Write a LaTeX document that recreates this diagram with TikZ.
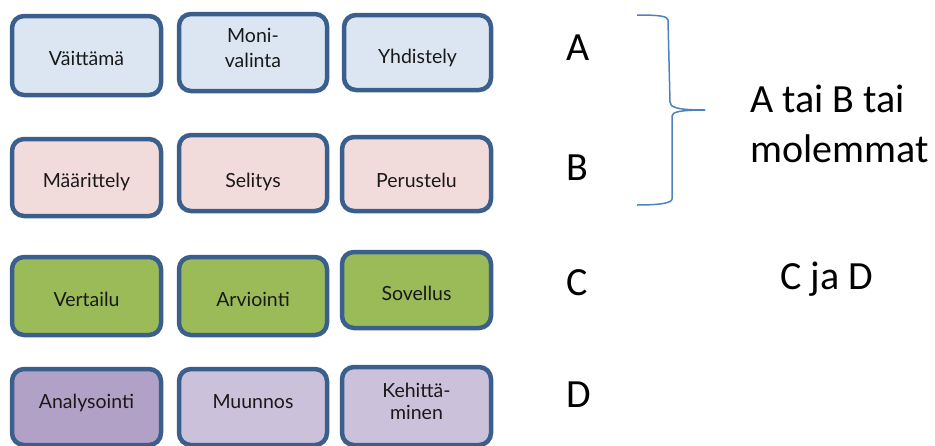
\documentclass[tikz,border=0pt]{standalone}
\usepackage{fontspec}
\setmainfont{Lato}
\newfontfamily\carlitofont{Carlito}
\definecolor{bord}{HTML}{3A5F8C}
\definecolor{fa}{HTML}{DCE6F2}
\definecolor{fb}{HTML}{F2DCDB}
\definecolor{fc}{HTML}{9BBB59}
\definecolor{fd}{HTML}{B2A1C7}
\definecolor{fe}{HTML}{CCC1DA}
\definecolor{brc}{HTML}{4F81BD}
\tikzset{
  card/.style={draw=bord, line width=4.5pt, rounded corners=12pt, align=center,
    inner sep=0pt, font=\fontsize{19.5}{23}\selectfont, text=black!90, text depth=0pt},
  letter/.style={anchor=base west, inner sep=0pt, font=\carlitofont\fontsize{40}{48}\selectfont},
}
\begin{document}
\begin{tikzpicture}[x=1pt,y=-1pt]
\useasboundingbox (0,0) rectangle (935,445);
\clip (0,0) rectangle (935,445);
% row A
\node[card, fill=fa, minimum width=149pt, minimum height=79pt, text height=19pt] (a1) at (86.5,55.5) {Väittämä};
\node[card, fill=fa, minimum width=148pt, minimum height=77pt, font=\fontsize{19.5}{25}\selectfont, text depth=10pt] (a2) at (253,52.5) {Moni-\\valinta};
\node[card, fill=fa, minimum width=147pt, minimum height=75pt, text height=21pt] (a3) at (417.5,52.5) {Yhdistely};
% row B
\node[card, fill=fb, minimum width=149pt, minimum height=77pt, text height=19pt] (b1) at (86.5,177.5) {Määrittely};
\node[card, fill=fb, minimum width=148pt, minimum height=76pt, text height=28pt] (b2) at (253,173) {Selitys};
\node[card, fill=fb, minimum width=149pt, minimum height=74pt, text height=26pt] (b3) at (416.5,174) {Perustelu};
% row C
\node[card, fill=fc, minimum width=149pt, minimum height=78pt, text height=20pt] (c1) at (86.5,296) {Vertailu};
\node[card, fill=fc, minimum width=148pt, minimum height=78pt, text height=20pt] (c2) at (253,296) {Arviointi};
\node[card, fill=fc, minimum width=149pt, minimum height=76pt, text height=20pt] (c3) at (416.5,290) {Sovellus};
% row D
\node[card, fill=fd, minimum width=149pt, minimum height=76pt, text height=2pt] (d1) at (86.5,407) {Analysointi};
\node[card, fill=fe, minimum width=148pt, minimum height=76pt, text height=2pt] (d2) at (253,407) {Muunnos};
\node[card, fill=fe, minimum width=149pt, minimum height=78pt, font=\fontsize{19.5}{22}\selectfont, text depth=10pt] (d3) at (416.5,406) {Kehittä-\\minen};
% letters
\node[letter] (la) at (566,60) {A};
\node[letter] (lb) at (566,180) {B};
\node[letter] (lc) at (566,295) {C};
\node[letter] (ld) at (566,407) {D};
\node[letter] (ab) at (750,112) {A tai B tai};
\node[letter] (mo) at (750,162) {molemmat};
\node[letter] (cd) at (780,289) {C ja D};
% brace
\coordinate (bt) at (637,15);
\coordinate (bm) at (705,110);
\coordinate (bb) at (637,205);
\draw[brc, line width=1.5pt]
  (bt) .. controls (658,15) and (668,16) .. (668,20) -- (670,102)
  .. controls (670,107) and (676,110) .. (bm);
\draw[brc, line width=1.5pt]
  (bm) .. controls (680,110) and (672,112) .. (672,116) -- (672,199)
  .. controls (672,203) and (660,205) .. (bb);
\end{tikzpicture}
\end{document}
